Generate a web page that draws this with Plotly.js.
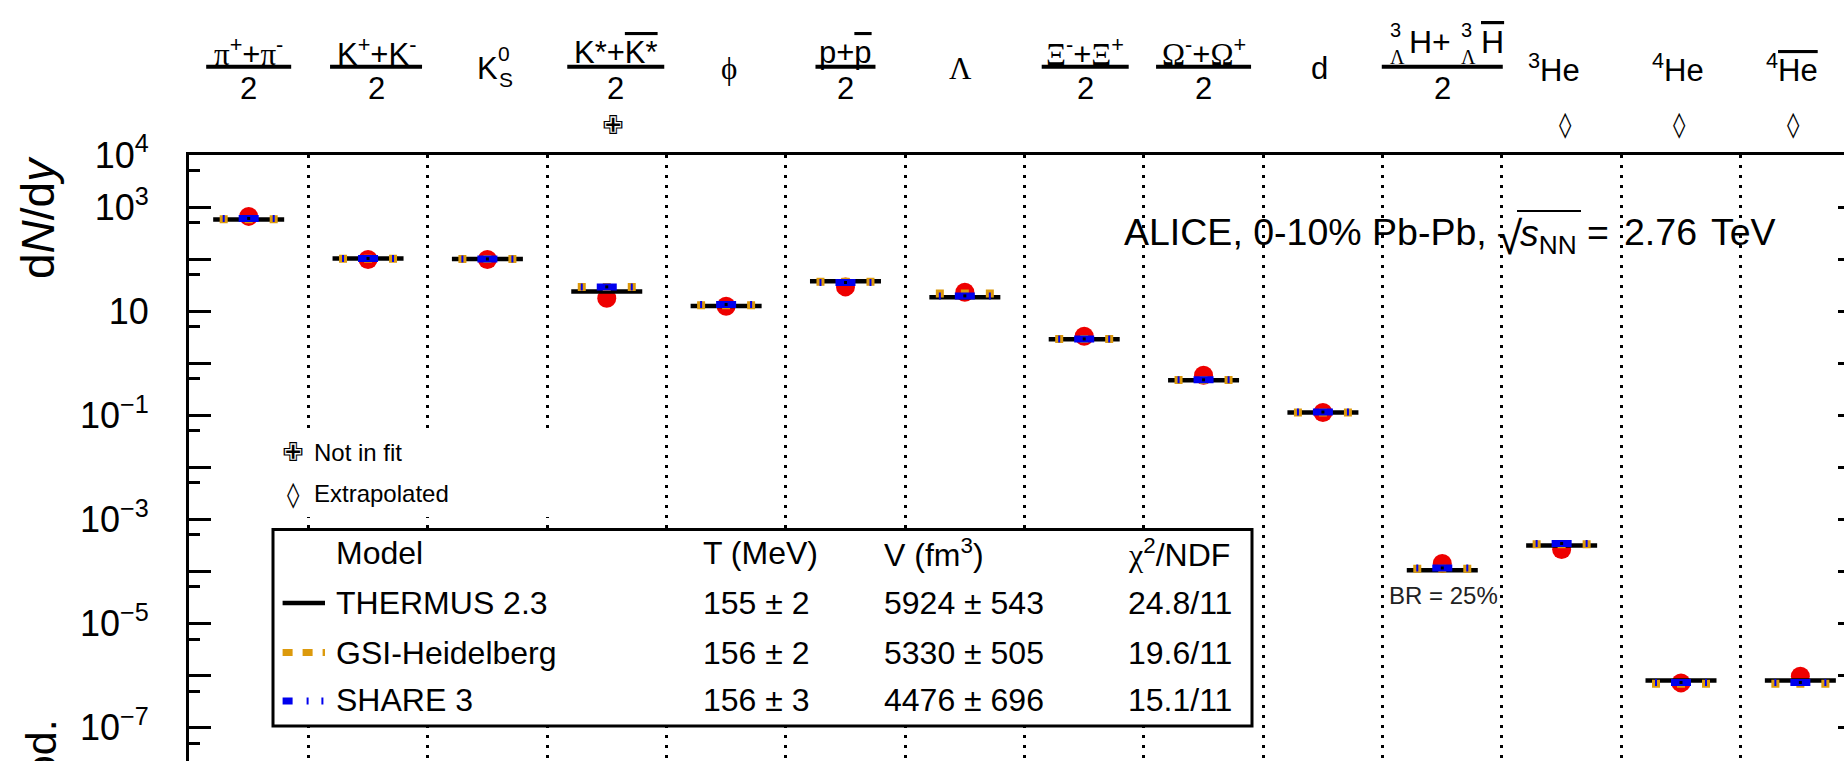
<!DOCTYPE html>
<html><head><meta charset="utf-8">
<script src="https://cdn.plot.ly/plotly-3.0.1.min.js"></script>
<style>html,body{margin:0;padding:0;background:#fff;overflow:hidden}#chart{width:1844px;height:761px}</style>
</head><body><div id="chart"></div>
<script>
// ---------------- data ----------------
const categories = ['pi','K','K0S','Kstar','phi','p','Lambda','Xi','Omega','d','hypertriton','He3','He4','antiHe4'];
const SER = s => `<span style="font-family:'Liberation Serif',serif">${s}</span>`;
const OVL = s => `<span style="text-decoration:overline">${s}</span>`;
// label pieces: plain string, or list of [text, dxPx, yPx, fontSize] for stacked scripts
const labelTop = [
  SER('π')+'<sup>+</sup>+'+SER('π')+'<sup>-</sup>',
  'K<sup>+</sup>+K<sup>-</sup>',
  [['K',0,69,31],['0',17,53,21],['S',19,80,21]],
  'K*+'+OVL('K*'),
  SER('ϕ'),
  'p+'+OVL('p'),
  SER('Λ'),
  SER('Ξ')+'<sup>-</sup>+'+SER('Ξ')+'<sup>+</sup>',
  SER('Ω')+'<sup>-</sup>+'+SER('Ω')+'<sup>+</sup>',
  'd',
  [['3',-47,30,20],[SER('Λ'),-45,57,20],['H+',-12,42,32],['3',24,30,20],[SER('Λ'),26,57,20],[OVL('H'),50,42,32]],
  '<sup>3</sup>He',
  '<sup>4</sup>He',
  '<sup>4</sup>'+OVL('He')
];
const labelDenominator = ['2','2','','2','','2','','2','2','','2','','',''];
const notInFit     = [0,0,0,1,0,0,0,0,0,0,0,0,0,0];
const extrapolated = [0,0,0,0,0,0,0,0,0,0,0,1,1,1];

const dataYield    = [661, 98, 98, 17.7, 12.4, 29.2, 23.1, 3.30, 0.587, 0.113, 1.41e-4, 2.62e-4, 7.18e-7, 9.66e-7];
const dataSysErr   = [null,null,null,null,null,null,null,null,null,null,null,null,3.2e-7,null];
const thermusYield = [577, 102.6, 100.7, 23.8, 12.6, 37.6, 18.5, 2.89, 0.471, 0.113, 1.05e-4, 3.13e-4, 7.98e-7, 7.98e-7];
const gsiYield     = [584, 101.5, 100.0, 29.2, 13.0, 36.5, 21.8, 2.92, 0.475, 0.113, 1.12e-4, 3.30e-4, 6.9e-7, 6.9e-7];
const shareYield   = [602, 102.6, 100.7, 29.2, 13.4, 35.5, 19.6, 2.92, 0.478, 0.115, 1.16e-4, 3.43e-4, 7.3e-7, 7.3e-7];

const modelNames = ['THERMUS 2.3','GSI-Heidelberg','SHARE 3'];
const modelT     = ['155 ± 2','156 ± 2','156 ± 3'];
const modelV     = ['5924 ± 543','5330 ± 505','4476 ± 696'];
const modelChi2  = ['24.8/11','19.6/11','15.1/11'];
const headers    = ['Model','T (MeV)','V (fm<sup>3</sup>)',SER('χ')+'<sup>2</sup>/NDF'];

const majorExp   = [4,3,2,1,0,-1,-2,-3,-4,-5,-6,-7];
const labeledExp = [4,3,1,-1,-3,-5,-7];

// ---------------- styles / geometry ----------------
const W=1844,H=761,ML=189,MT=155;
const PW=W-ML, PH=H-MT;
const PXU=119.36;                       // px per category
const px = x => (x-ML)/PW;              // pixel -> paper
const py = y => (H-y)/PH;
const FONT = 'Liberation Sans, Arial, Helvetica, sans-serif';
const RED='#ee0000', BLUE='#0000ee', ORANGE='#dc9a0c';
const labelDx  = [0,8,3,9,3,0,-4,1,0,-3,0,-8,-3,-8];
const barW     = [85,92,0,97,0,60,0,87,95,0,121,0,0,0];
const symDx    = [0,0,0,6,0,0,0,0,0,0,0,4,-2,-7];

const idx = categories.map((_,i)=>i);
function segs(vals, halfPx){
  const xs=[],ys=[];
  vals.forEach((v,i)=>{xs.push(i-halfPx/PXU,i+halfPx/PXU,null);ys.push(v,v,null);});
  return {x:xs,y:ys};
}
const th=segs(thermusYield,35.5), gs=segs(gsiYield,29), sh=segs(shareYield,26);

const traces=[
  {x:idx,y:dataYield,mode:'markers',marker:{color:RED,size:19,symbol:'circle'},hoverinfo:'skip'},
  {x:th.x,y:th.y,mode:'lines',line:{color:'#000',width:4.5},hoverinfo:'skip'},
  {x:gs.x,y:gs.y,mode:'lines',line:{color:ORANGE,width:8,dash:'8px,17px'},hoverinfo:'skip'},
  {x:sh.x,y:sh.y,mode:'lines',line:{color:BLUE,width:7,dash:'2px,14px,20px,14px'},hoverinfo:'skip'},
  {x:idx,y:shareYield,mode:'markers',marker:{color:'#000',size:3,symbol:'square'},hoverinfo:'skip'},
  {x:[0],y:[1],yaxis:'y2',mode:'markers',marker:{opacity:0},hoverinfo:'skip'}
];

const shapes=[], annotations=[];
const ann = (o)=>annotations.push(Object.assign({showarrow:false,xanchor:'center',yanchor:'middle'},o));
// systematic boxes
dataSysErr.forEach((e,i)=>{ if(e==null) return;
  shapes.push({type:'rect',xref:'x',yref:'y',layer:'between',x0:i-11/PXU,x1:i+11/PXU,
    y0:Math.log10(dataYield[i]-e),y1:Math.log10(dataYield[i]+e),line:{color:RED,width:2},fillcolor:'rgba(0,0,0,0)'});
});
// category labels
categories.forEach((c,i)=>{
  const cx=i+labelDx[i]/PXU;
  const lab=labelTop[i];
  if(Array.isArray(lab)){
    lab.forEach(p=>ann({xref:'x',yref:'paper',x:i+p[1]/PXU,y:py(p[2]),text:p[0],font:{size:p[3]}}));
  } else if(labelDenominator[i]){
    ann({xref:'x',yref:'paper',x:cx,y:py(52),text:lab,font:{size:31}});
  } else {
    ann({xref:'x',yref:'paper',x:cx,y:py(68),text:lab,font:{size:31}});
  }
  if(labelDenominator[i]){
    ann({xref:'x',yref:'paper',x:cx,y:py(89),text:labelDenominator[i],font:{size:31}});
    shapes.push({type:'line',xref:'x',yref:'paper',x0:cx-barW[i]/2/PXU,x1:cx+barW[i]/2/PXU,y0:py(66.7),y1:py(66.7),line:{color:'#000',width:4}});
  }
  if(notInFit[i]) ann({xref:'x',yref:'paper',x:i+symDx[i]/PXU,y:py(125),text:'✙',font:{size:26,family:'DejaVu Sans'}});
  if(extrapolated[i]) ann({xref:'x',yref:'paper',x:i+symDx[i]/PXU,y:py(125),text:'◊',font:{size:25,family:'DejaVu Sans'}});
});
// BR annotation for hypertriton
ann({xref:'x',yref:'paper',x:categories.indexOf('hypertriton')+1.5/PXU,y:py(595),text:'BR = 25%',font:{size:24,color:'#222'}});
// title text
ann({xref:'paper',yref:'paper',x:px(1122),y:py(232),xanchor:'left',text:'ALICE, 0-10% Pb-Pb,',font:{size:37.5}});
ann({xref:'paper',yref:'paper',x:px(1510),y:py(238),text:'√',font:{size:46}});
ann({xref:'paper',yref:'paper',x:px(1518),y:py(236),xanchor:'left',text:'<i>s</i><sub>NN</sub>',font:{size:37.5}});
ann({xref:'paper',yref:'paper',x:px(1598),y:py(232),text:'=',font:{size:37.5}});
ann({xref:'paper',yref:'paper',x:px(1699),y:py(232),xanchor:'right',text:'2.76',font:{size:37.5}});
ann({xref:'paper',yref:'paper',x:px(1709),y:py(232),xanchor:'left',text:'TeV',font:{size:37.5}});
shapes.push({type:'line',xref:'paper',yref:'paper',x0:px(1517),x1:px(1581),y0:py(211),y1:py(211),line:{color:'#000',width:2}});
// y title(s)
ann({xref:'paper',yref:'paper',x:px(38),y:py(218),textangle:-90,text:'d<i>N</i>/d<i>y</i>',font:{size:46}});
ann({xref:'paper',yref:'paper',x:px(40),y:py(718),yanchor:'top',textangle:-90,text:'data/mod.',font:{size:43}});
// "not in fit"/"extrapolated" key
shapes.push({type:'rect',xref:'paper',yref:'paper',layer:'above',x0:px(240),x1:px(665),y0:py(517),y1:py(428),fillcolor:'#fff',line:{width:0}});
ann({xref:'paper',yref:'paper',x:px(293),y:py(452),text:'✙',font:{size:26,family:'DejaVu Sans'}});
ann({xref:'paper',yref:'paper',x:px(312),y:py(452),xanchor:'left',text:'Not in fit',font:{size:24}});
ann({xref:'paper',yref:'paper',x:px(293),y:py(494),text:'◊',font:{size:25,family:'DejaVu Sans'}});
ann({xref:'paper',yref:'paper',x:px(312),y:py(493),xanchor:'left',text:'Extrapolated',font:{size:24}});
// model legend box
shapes.push({type:'rect',xref:'paper',yref:'paper',layer:'above',x0:px(273),x1:px(1252),y0:py(726),y1:py(529.5),fillcolor:'#fff',line:{color:'#000',width:3}});
const colX=[334,701,882,1126], rowY=[553,603,653,700];
headers.forEach((h,k)=>ann({xref:'paper',yref:'paper',x:px(colX[k]),y:py(rowY[0]),xanchor:'left',text:h,font:{size:32}}));
modelNames.forEach((m,r)=>{
  [m,modelT[r],modelV[r],modelChi2[r]].forEach((t,k)=>ann({xref:'paper',yref:'paper',x:px(colX[k]),y:py(rowY[r+1]),xanchor:'left',text:t,font:{size:32}}));
});
shapes.push({type:'line',xref:'paper',yref:'paper',layer:'above',x0:px(282.6),x1:px(325),y0:py(603),y1:py(603),line:{color:'#000',width:4.5}});
shapes.push({type:'line',xref:'paper',yref:'paper',layer:'above',x0:px(282.6),x1:px(325),y0:py(652.5),y1:py(652.5),line:{color:ORANGE,width:7,dash:'10px,10px'}});
shapes.push({type:'line',xref:'paper',yref:'paper',layer:'above',x0:px(282.6),x1:px(325),y0:py(701),y1:py(701),line:{color:BLUE,width:7,dash:'10px,14px,2px,12.8px,2px,60px'}});

const boundaries = categories.slice(1).map((_,i)=>i+0.5);
const layout={
  width:W,height:H,margin:{l:ML,r:0,t:MT,b:0,pad:0},
  paper_bgcolor:'#fff',plot_bgcolor:'#fff',showlegend:false,
  font:{family:FONT,color:'#000',size:30},
  xaxis:{range:[-0.5,-0.5+PW/PXU],side:'top',showline:true,linecolor:'#000',linewidth:3,ticks:'',showticklabels:false,
    tickmode:'array',tickvals:boundaries,showgrid:true,gridcolor:'#000',gridwidth:3,griddash:'3px,7px',zeroline:false,fixedrange:true},
  yaxis:{type:'log',range:[4-PH/52.04,4],showline:true,linecolor:'#000',linewidth:3,ticks:'inside',ticklen:22,tickwidth:3,tickcolor:'#000',
    tickmode:'array',tickvals:majorExp.map(e=>Math.pow(10,e)),
    ticktext:majorExp.map(e=>labeledExp.includes(e)?(e===1?'10':'10<sup>'+(e<0?'−'+(-e):e)+'</sup>'):''),
    tickfont:{size:36},ticklabelstandoff:30,showgrid:false,zeroline:false,fixedrange:true,
    minor:{ticks:'inside',ticklen:11,tickwidth:3,tickcolor:'#000',tickmode:'array',tickvals:majorExp.map(e=>5*Math.pow(10,e-1)),showgrid:false}},
  yaxis2:{type:'log',range:[4-PH/52.04,4],overlaying:'y',side:'right',anchor:'x',showline:false,ticks:'inside',ticklen:6,tickwidth:3,tickcolor:'#000',
    tickmode:'array',tickvals:majorExp.map(e=>Math.pow(10,e)),showticklabels:false,showgrid:false,zeroline:false,fixedrange:true},
  shapes:shapes,annotations:annotations
};
Plotly.newPlot('chart',traces,layout,{staticPlot:true,displayModeBar:false});
</script></body></html>
